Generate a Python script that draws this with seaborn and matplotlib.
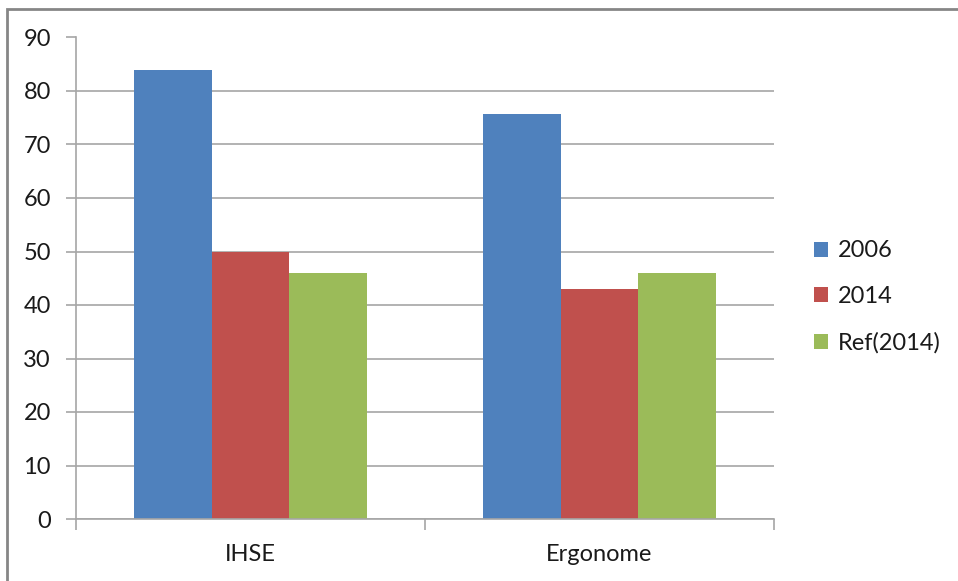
import matplotlib
matplotlib.use("Agg")
import matplotlib.pyplot as plt
import matplotlib.patches as mpatches
import seaborn as sns
import pandas as pd

categories = ["IHSE", "Ergonome"]
series = ["2006", "2014", "Ref(2014)"]
values_2006 = [84, 75.7]
values_2014 = [50, 43]
values_ref2014 = [46, 46]
y_ticks = [0, 10, 20, 30, 40, 50, 60, 70, 80, 90]
colors = ["#4F81BD", "#C0504D", "#9BBB59"]

rows = []
for s, vals in zip(series, [values_2006, values_2014, values_ref2014]):
    for c, v in zip(categories, vals):
        rows.append({"category": c, "series": s, "value": v})
df = pd.DataFrame(rows)

sns.set_theme(style="white")
plt.rcParams["font.family"] = ["Lato", "DejaVu Sans"]

W, H = 958, 581
fig = plt.figure(figsize=(W / 100, H / 100), dpi=100)
ax = fig.add_axes([76 / W, 1 - 519 / H, (774 - 76) / W, (519 - 37.5) / H])

grid_color = "#A6A6A6"
ax.set_axisbelow(True)
ax.yaxis.grid(True, color=grid_color, linewidth=1.2)
ax.xaxis.grid(False)

sns.barplot(data=df, x="category", y="value", hue="series", palette=colors,
            width=2 / 3, ax=ax, linewidth=0, saturation=1, legend=True)

ax.set_xlim(-0.5, 1.5)
ax.set_ylim(0, 90)
ax.set_yticks(y_ticks)
ax.set_yticklabels([str(t) for t in y_ticks])
ax.set_xlabel("")
ax.set_ylabel("")

for side in ["top", "right"]:
    ax.spines[side].set_visible(False)
for side in ["left", "bottom"]:
    ax.spines[side].set_color(grid_color)
    ax.spines[side].set_linewidth(1.2)

ax.tick_params(axis="y", which="major", length=7, width=1.2, color=grid_color,
               direction="out", left=True, pad=11, labelsize=17, labelcolor="#1a1a1a")
ax.tick_params(axis="x", which="major", length=0, pad=18, labelsize=17,
               labelcolor="#1a1a1a")
ax.set_xticks([-0.5, 0.5, 1.5], minor=True)
ax.tick_params(axis="x", which="minor", length=8, width=1.2, color=grid_color,
               direction="out", bottom=True)

handles, labels = ax.get_legend_handles_labels()
ax.get_legend().remove()
fig.legend(handles, labels, loc="center left",
           bbox_to_anchor=(814 / W, 1 - 297 / H), frameon=False,
           fontsize=17, handlelength=0.6, handleheight=0.6,
           handletextpad=0.4, labelspacing=1.05, borderpad=0,
           borderaxespad=0, labelcolor="#1a1a1a")

border = mpatches.Rectangle((7 / W, -0.2), 1.2, 1 - 9 / H + 0.2,
                            transform=fig.transFigure, fill=False,
                            edgecolor="#868686", linewidth=2, clip_on=False)
fig.patches.append(border)

fig.savefig("out.png", dpi=100, facecolor="white")
